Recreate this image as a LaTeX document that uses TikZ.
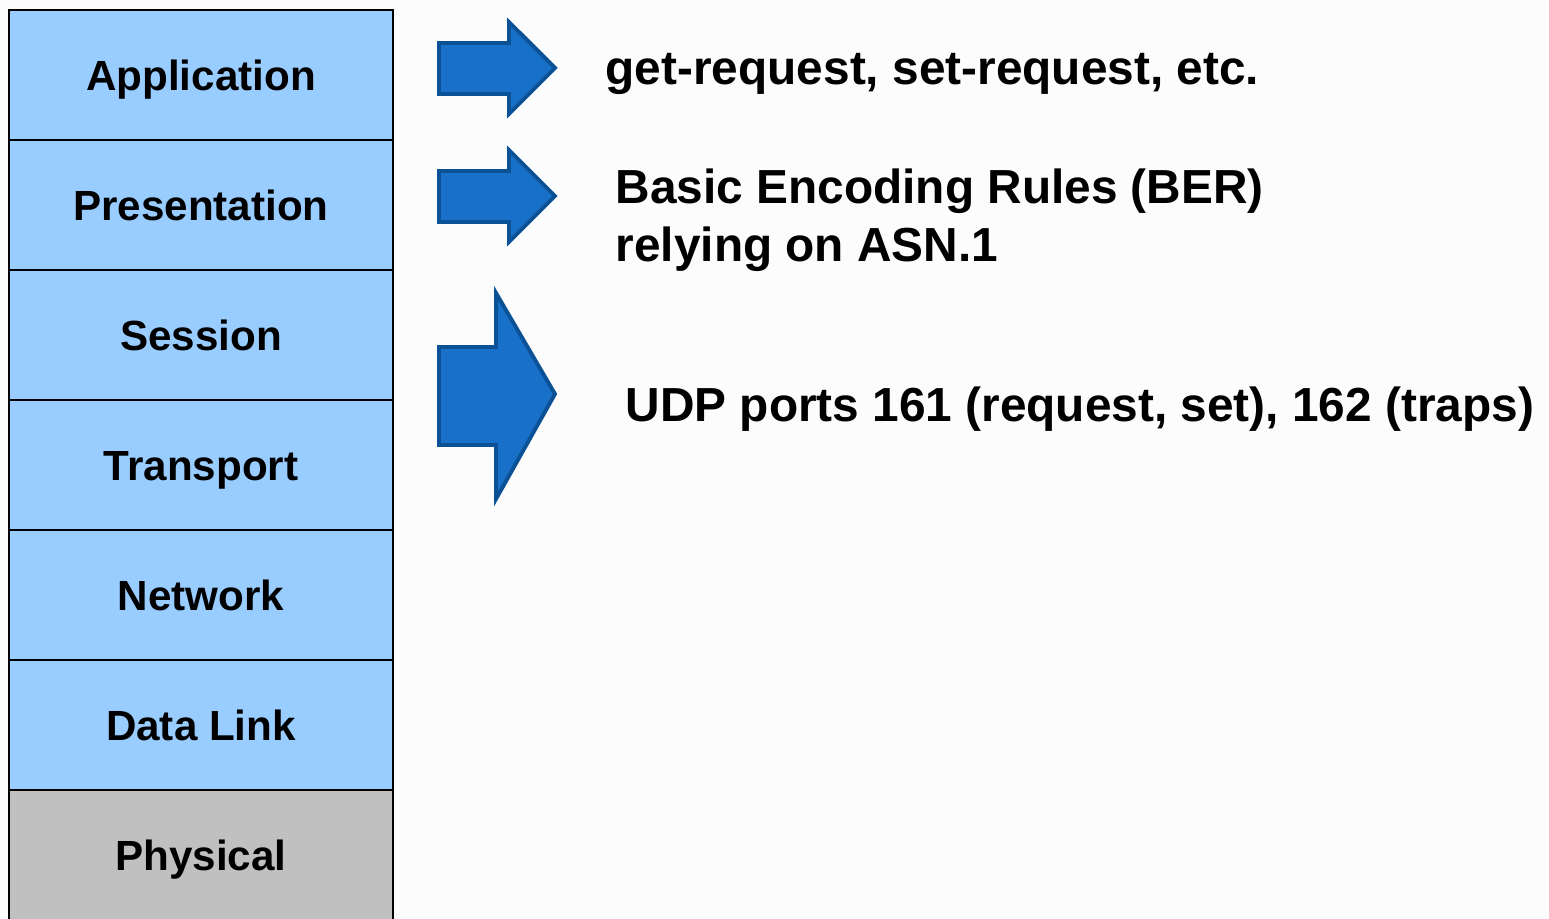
\documentclass[tikz,border=0pt]{standalone}
\usepackage{fontspec}
\setmainfont{Liberation Sans}
\usepackage{xcolor}
\usepackage{tikz}
\usetikzlibrary{positioning}
\definecolor{layerblue}{HTML}{99CCFF}
\definecolor{layergrey}{HTML}{C0C0C0}
\definecolor{arrowfill}{HTML}{1870C8}
\definecolor{arrowedge}{HTML}{0B5196}
\definecolor{paper}{HTML}{FCFCFC}
\tikzset{
  layer/.style={draw=black,line width=0.6pt,fill=layerblue,outer sep=0pt,
                minimum width=3.84cm,minimum height=1.30cm,
                text height=0.9em,text depth=0pt,
                font=\fontsize{12}{14}\selectfont\bfseries},
  phys/.style={layer,fill=layergrey},
  blockarrow/.style={fill=arrowfill,draw=arrowedge,line width=1.1pt,line join=miter},
  note/.style={anchor=west,align=left,inner sep=0pt,
               font=\fontsize{13.6}{16.5}\selectfont\bfseries}
}
\begin{document}
\begin{tikzpicture}
  \fill[paper] (0,0) rectangle (15.49,-9.19);
  \useasboundingbox (0,0) rectangle (15.49,-9.19);
  \clip (0,0) rectangle (15.49,-9.19);
  % OSI stack
  \node[layer,anchor=north west] (app) at (0.09,-0.10) {Application};
  \node[layer,below=0pt of app] (pres) {Presentation};
  \node[layer,below=0pt of pres] (sess) {Session};
  \node[layer,below=0pt of sess] (trans) {Transport};
  \node[layer,below=0pt of trans] (net) {Network};
  \node[layer,below=0pt of net] (link) {Data Link};
  \node[phys,below=0pt of link] (phy) {Physical};
  % block arrows
  \draw[blockarrow] (4.39,-0.43) -- (5.09,-0.43) -- (5.09,-0.22) -- (5.55,-0.68)
    -- (5.09,-1.14) -- (5.09,-0.94) -- (4.39,-0.94) -- cycle;
  \draw[blockarrow] (4.39,-1.71) -- (5.09,-1.71) -- (5.09,-1.50) -- (5.55,-1.96)
    -- (5.09,-2.42) -- (5.09,-2.22) -- (4.39,-2.22) -- cycle;
  \draw[blockarrow] (4.39,-3.47) -- (4.96,-3.47) -- (4.96,-2.93) -- (5.55,-3.94)
    -- (4.96,-4.99) -- (4.96,-4.45) -- (4.39,-4.45) -- cycle;
  % what SNMP uses
  \node[note] (appnote) at (6.05,-0.74) {get-request, set-request, etc.};
  \node[note] (presnote) at (6.15,-2.20) {Basic Encoding Rules (BER)\\relying on ASN.1};
  \node[note] (transnote) at (6.25,-4.09) {UDP ports 161 (request, set), 162 (traps)};
\end{tikzpicture}
\end{document}
